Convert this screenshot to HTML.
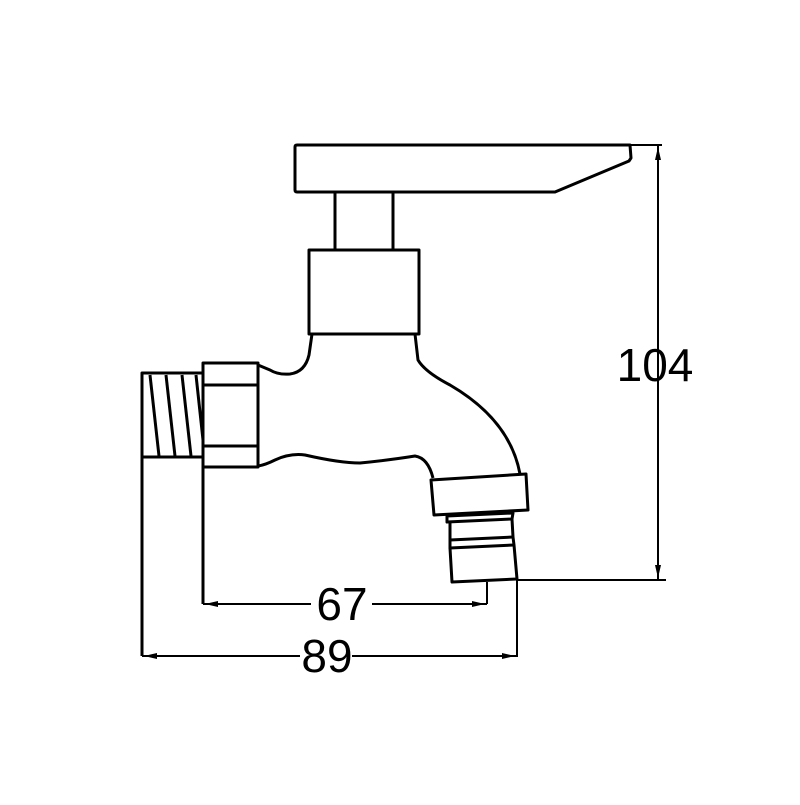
<!DOCTYPE html>
<html><head><style>html,body{margin:0;padding:0;background:#fff}</style></head>
<body>
<svg width="800" height="800" viewBox="0 0 800 800" xmlns="http://www.w3.org/2000/svg">
<g fill="none" stroke="#000" stroke-width="3" stroke-linejoin="round">
<!-- handle -->
<path d="M297,145 L630,145 L631,158 L629,161 L555,192 L297,192 Q295,192 295,190 L295,147 Q295,145 297,145 Z"/>
<line x1="335" y1="192" x2="335" y2="250"/>
<line x1="393" y1="192" x2="393" y2="250"/>
<rect x="309" y="250" width="110" height="84"/>
<!-- body -->
<path d="M312,334 L309,355 Q305,372 290,374 Q278,375 270,370 L258,365"/>
<path d="M415,334 L418,360 Q425,372 450,385 Q510,420 520,474"/>
<path d="M258,466 Q265,465 275,460 Q290,453 305,455 Q340,463 360,463 Q390,460 415,456 Q428,458 433,478"/>
<!-- nut -->
<rect x="203" y="363" width="55" height="104"/>
<line x1="203" y1="385" x2="258" y2="385"/>
<line x1="203" y1="446" x2="258" y2="446"/>
<!-- thread -->
<polyline points="203,373 142,373 142,656"/>
<line x1="142" y1="457" x2="203" y2="457"/>
<line x1="150" y1="375" x2="159" y2="456"/>
<line x1="166" y1="375" x2="175" y2="456"/>
<line x1="182" y1="375" x2="191" y2="456"/>
<line x1="196" y1="375" x2="203" y2="440"/>
<line x1="203" y1="457" x2="203" y2="604"/>
<!-- outlet -->
<path d="M431,480 L526,474 L528,510 L434,515 Z"/>
<path d="M447,516 L513,513 L512,519 L447,522 Z"/>
<path d="M450,522 L450,540 L513,537 L512,519"/>
<path d="M450,540 L450,548 L514,545 L513,537"/>
<path d="M450,548 L452,582 L517,579 L514,545"/>
</g>
<g fill="none" stroke="#000" stroke-width="2">
<!-- 104 dim -->
<line x1="630" y1="145" x2="662" y2="145"/>
<line x1="517" y1="580" x2="666" y2="580"/>
<line x1="658" y1="145" x2="658" y2="580"/>
<!-- 67 -->
<line x1="487" y1="582" x2="487" y2="604"/>
<line x1="203" y1="604" x2="311" y2="604"/>
<line x1="372" y1="604" x2="487" y2="604"/>
<!-- 89 -->
<line x1="517" y1="578" x2="517" y2="657"/>
<line x1="142" y1="656" x2="300" y2="656"/>
<line x1="352" y1="656" x2="517" y2="656"/>
</g>
<g fill="#000">
<polygon points="658,147 655,160 661,160"/>
<polygon points="658,578 655,565 661,565"/>
<polygon points="205,604 218,601 218,607"/>
<polygon points="485,604 472,601 472,607"/>
<polygon points="144,656 157,653 157,659"/>
<polygon points="515,656 502,653 502,659"/>
</g>
<g font-family="Liberation Sans, sans-serif" font-size="46" fill="#000" text-anchor="middle">
<text x="655" y="381">104</text>
<text x="342" y="620">67</text>
<text x="327" y="672">89</text>
</g>
</svg>
</body></html>
